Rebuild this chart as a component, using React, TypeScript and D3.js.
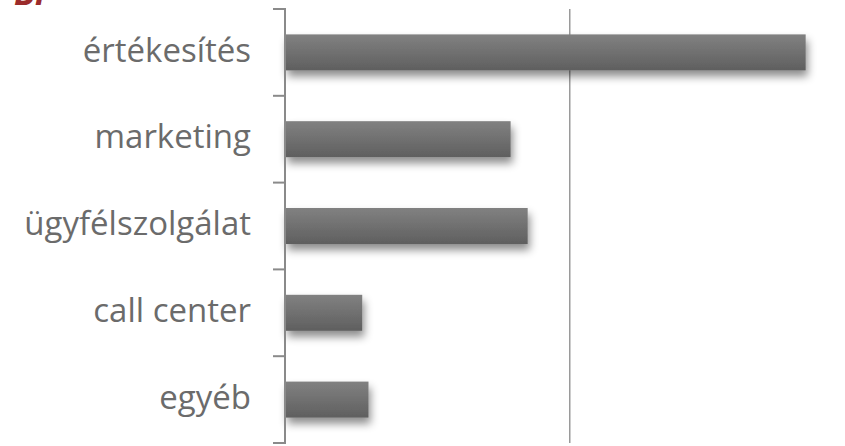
import React from "react";
import * as d3 from "d3";

const categories = ["értékesítés", "marketing", "ügyfélszolgálat", "call center", "egyéb"];
const values = [91.5, 39.6, 42.6, 13.5, 14.6];
const gridTicks = [50];

const W = 845;
const H = 446;

export default function App() {
  const x = d3.scaleLinear().domain([0, 100]).range([285.5, 854]);
  const y = d3.scaleBand().domain(categories).range([9, 443]).paddingInner(0.585).paddingOuter(0.2925);
  const step = y.step();
  const bounds = d3.range(categories.length + 1).map((i) => 9 + i * step);
  return (
    <svg width={W} height={H} style={{ position: "absolute", left: 0, top: 0, background: "#fff" }}>
      <defs>
        <linearGradient id="barGrad" x1="0" y1="0" x2="0" y2="1">
          <stop offset="0" stopColor="#818181" />
          <stop offset="1" stopColor="#5f5f5f" />
        </linearGradient>
        <filter id="shadow" x="-10%" y="-30%" width="130%" height="190%">
          <feDropShadow dx="2" dy="6" stdDeviation="4" floodColor="#000" floodOpacity="0.45" />
        </filter>
      </defs>
      <text x={14} y={5} fill="#9b2b2b" fontFamily="'Open Sans', sans-serif" fontSize={34} fontWeight="bold" fontStyle="italic">
        Bi
      </text>
      {gridTicks.map((t) => (
        <line key={t} x1={x(t)} x2={x(t)} y1={9} y2={443} stroke="#9a9a9a" strokeWidth={1.5} />
      ))}
      {categories.map((c, i) => (
        <rect
          key={c}
          x={x(0)}
          y={y(c)!}
          width={x(values[i]) - x(0)}
          height={y.bandwidth()}
          fill="url(#barGrad)"
          filter="url(#shadow)"
        />
      ))}
      <line x1={285} x2={285} y1={8} y2={444} stroke="#8a8a8a" strokeWidth={2} />
      {bounds.map((b, i) => (
        <line key={i} x1={273} x2={285} y1={b} y2={b} stroke="#8a8a8a" strokeWidth={2} />
      ))}
      {categories.map((c) => (
        <text
          key={c}
          x={251}
          y={y(c)! + y.bandwidth() / 2}
          dy="0.28em"
          textAnchor="end"
          fill="#6b6b6b"
          fontFamily="'Open Sans', sans-serif"
          fontSize={33}
        >
          {c}
        </text>
      ))}
    </svg>
  );
}
